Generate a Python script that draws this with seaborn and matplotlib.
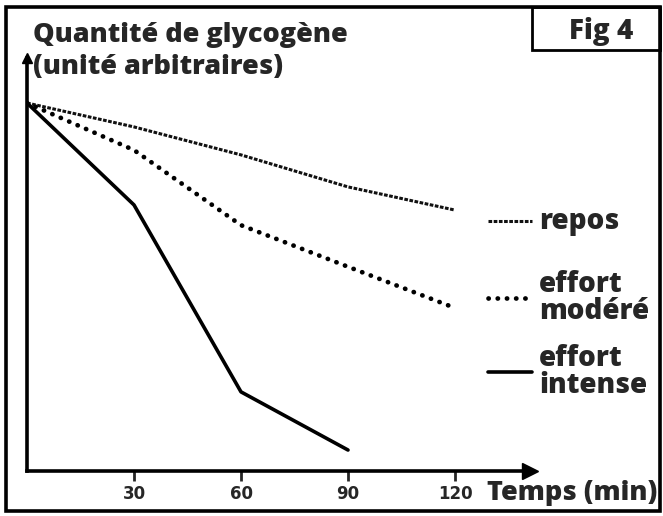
import matplotlib
matplotlib.use("Agg")
import matplotlib.pyplot as plt
import seaborn as sns
import pandas as pd
from matplotlib.patches import Rectangle
from matplotlib.lines import Line2D

# values (arbitrary units, start = 100)
temps = [0, 30, 60, 90, 120]
repos = [100, 93.5, 85.9, 77.2, 70.9]
effort_modere = [100, 87.2, 66.8, 55.5, 44.3]
temps_intense = [0, 30, 60, 90]
effort_intense = [100, 72.3, 21.5, 5.7]

W, H = 663, 516


def fx(px):
    return px / W


def fy(py):
    return 1 - py / H


sns.set_style("white")
plt.rcParams['font.family'] = ['Open Sans', 'DejaVu Sans']

fig = plt.figure(figsize=(W / 100, H / 100), dpi=100)
ax = fig.add_axes([fx(27), fy(471), fx(530) - fx(27), fy(58) - fy(471)])

styles = {
    'repos': dict(ls=(0, (1.2, 0.5)), lw=2.2, color='#111111', cap='butt'),
    'effort modéré': dict(ls=(0, (0.05, 1.9)), lw=3.4, color='black', cap='round'),
    'effort intense': dict(ls='-', lw=2.6, color='black', cap='round'),
}

df = pd.concat([
    pd.DataFrame({'temps': temps, 'glycogene': repos, 'condition': 'repos'}),
    pd.DataFrame({'temps': temps, 'glycogene': effort_modere, 'condition': 'effort modéré'}),
    pd.DataFrame({'temps': temps_intense, 'glycogene': effort_intense, 'condition': 'effort intense'}),
])

for cond, sub in df.groupby('condition', sort=False):
    st = styles[cond]
    sns.lineplot(data=sub, x='temps', y='glycogene', ax=ax, color=st['color'],
                 linewidth=st['lw'], linestyle=st['ls'], dash_capstyle=st['cap'],
                 solid_capstyle='round', legend=False)

ax.set_xlim(0, (530 - 27) / (107 / 30))
ax.set_ylim(0, (471 - 58) / 3.68)
ax.set_xlabel('')
ax.set_ylabel('')

for s in ['top', 'right']:
    ax.spines[s].set_visible(False)
for s in ['left', 'bottom']:
    ax.spines[s].set_linewidth(2.6)
    ax.spines[s].set_color('black')

# arrow heads on the axes
ax.plot(1, 0, '>', color='black', ms=11, transform=ax.transAxes, clip_on=False)
ax.plot(0, 1, '^', color='black', ms=7, transform=ax.transAxes, clip_on=False)

ax.set_xticks([30, 60, 90, 120])
ax.set_xticklabels(['30', '60', '90', '120'], fontsize=12, fontweight='bold',
                   family=['Liberation Sans Narrow', 'DejaVu Sans'])
ax.tick_params(axis='x', direction='out', length=7, width=2, pad=3, bottom=True)
ax.set_yticks([])

# text around the chart
fsz = 19.5
wt = 'heavy'
fig.text(fx(33), fy(42), 'Quantité de glycogène', fontsize=fsz, fontweight=wt, va='baseline')
fig.text(fx(33), fy(74), '(unité arbitraires)', fontsize=fsz, fontweight=wt, va='baseline')
fig.text(fx(487), fy(500), 'Temps (min)', fontsize=fsz, fontweight=wt, va='baseline')

fig.text(fx(601), fy(39), 'Fig 4', fontsize=20, fontweight=wt, va='baseline', ha='center')
fig.add_artist(Rectangle((fx(532), fy(50)), fx(660) - fx(532), fy(7) - fy(50),
                         transform=fig.transFigure, fill=False, lw=2, color='black'))

# outer frame
fig.add_artist(Rectangle((fx(6), fy(511)), fx(660) - fx(6), fy(7) - fy(511),
                         transform=fig.transFigure, fill=False, lw=2.6, color='black'))

# legend drawn by hand
legend_items = [('repos', 'repos', 221), ('effort modéré', 'effort\nmodéré', 298),
                ('effort intense', 'effort\nintense', 372)]
for cond, label, yc in legend_items:
    st = styles[cond]
    fig.add_artist(Line2D([fx(488), fx(532)], [fy(yc), fy(yc)], transform=fig.transFigure,
                          color=st['color'], lw=st['lw'], ls=st['ls'], dash_capstyle=st['cap']))
    fig.text(fx(539), fy(yc), label, fontsize=20, fontweight=wt, va='center',
             linespacing=0.9)

fig.savefig('out.png', dpi=100)
